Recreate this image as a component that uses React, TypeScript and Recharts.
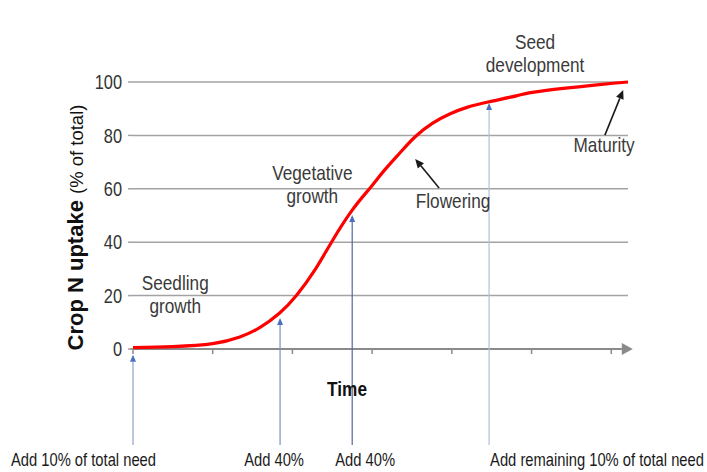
import React from 'react';
import { LineChart, Line, XAxis, YAxis, CartesianGrid, ReferenceLine, ReferenceDot } from 'recharts';

// ---- data ----
const times = [0, 0.5, 1.0, 1.34, 1.59, 1.84, 2.05, 2.28, 2.49, 2.75, 2.98, 3.15, 3.35, 3.54, 3.76, 3.98, 4.19, 4.47, 4.82, 5.1, 5.82, 6.21];
const uptake = [0.5, 0.9, 2.0, 4.5, 8.0, 13.5, 20, 29.5, 40, 52, 60.5, 66.8, 73.5, 79.5, 84.6, 88.1, 90.5, 92.6, 94.9, 96.5, 98.9, 100];
const yTicks = [0, 20, 40, 60, 80, 100];
const xTicks = [0, 1, 2, 3, 4, 5, 6];

const stageTexts = ['Seedling|growth', 'Vegetative|growth', 'Flowering', 'Maturity', 'Seed|development'];
const stageTimes = [0.53, 2.25, 4.015, 5.91, 5.044];
const stageValues = [22.1, 63.3, 52.8, 73.8, 112.4];

const arrowFromTimes = [3.84, 5.92];
const arrowFromValues = [60.3, 80.1];
const arrowToTimes = [3.54, 6.15];
const arrowToValues = [71.2, 97.0];

const applicationLabels = ['Add 10% of total need', 'Add 40%', 'Add 40%', 'Add remaining 10% of total need'];
const applicationTimes = [0, 1.845, 2.75, 4.467];
const applicationTops = [-2.2, 11.6, 50.2, 92.1];
const applicationBottom = -36;

const xAxisEnd = 6.27;
const yLabelTime = -0.63;
const yLabelValue = 45.5;
const timeLabelTime = 2.685;
const timeLabelValue = -17.6;

const data = times.map((t, i) => ({ t, v: uptake[i] }));

// ---- styles ----
const SANS = "'Liberation Sans', Arial, sans-serif";
const SQUEEZE = 0.82;
const GRID = '#a3a3a3';
const AXIS = '#8a8a8a';
const appColors = ['#8ea0cc', '#7b90c2', '#56689a', '#b3c0dc'];
const appAnchors: ('start' | 'middle' | 'end')[] = ['end', 'middle', 'middle', 'start'];
const appDx = [23, -6, 13, 1];

const NarrowText = ({ x, y, anchor = 'start', size, weight = 'normal', fill, lines, lineGap = 0, dy = 0 }: any) => (
  <text
    transform={`translate(${x},${y}) scale(${SQUEEZE},1)`}
    x={0}
    y={0}
    textAnchor={anchor}
    fontFamily={SANS}
    fontSize={size}
    fontWeight={weight}
    fill={fill}
  >
    {lines.map((l: string, k: number) => (
      <tspan key={k} x={0} dy={k === 0 ? dy : lineGap}>
        {l}
      </tspan>
    ))}
  </text>
);

function arrowHead(x1: number, y1: number, x2: number, y2: number, len: number, half: number) {
  const ang = Math.atan2(y2 - y1, x2 - x1);
  const bx = x2 - len * Math.cos(ang);
  const by = y2 - len * Math.sin(ang);
  const px = -Math.sin(ang) * half;
  const py = Math.cos(ang) * half;
  return { bx, by, points: `${x2},${y2} ${bx + px},${by + py} ${bx - px},${by - py}` };
}

const BlackArrow = (p: any) => {
  const { x1, y1, x2, y2 } = p;
  const h = arrowHead(x1, y1, x2, y2, 9, 4);
  return (
    <g>
      <line x1={x1} y1={y1} x2={h.bx} y2={h.by} stroke="#1a1a1a" strokeWidth={1.6} />
      <polygon points={h.points} fill="#1a1a1a" />
    </g>
  );
};

const AxisArrow = (p: any) => {
  const { x1, y1, x2, y2 } = p;
  const h = arrowHead(x1, y1, x2, y2, 11, 6);
  return (
    <g>
      <line x1={x1 - 3} y1={y1} x2={h.bx} y2={h.by} stroke={AXIS} strokeWidth={2.2} />
      <polygon points={h.points} fill={AXIS} />
    </g>
  );
};

const makeAppArrow = (i: number) => (p: any) => {
  const { x1, y1, x2, y2 } = p; // from bottom to top
  const h = arrowHead(x1, y1, x2, y2, 7, 3);
  return (
    <g>
      <line x1={x1} y1={y1} x2={h.bx} y2={h.by} stroke={appColors[i]} strokeWidth={1.2} />
      <polygon points={h.points} fill="#4a6fc0" />
      <NarrowText
        x={x1 + appDx[i]}
        y={y1 + 21}
        anchor={appAnchors[i]}
        size={18}
        fill="#1a1a1a"
        lines={[applicationLabels[i]]}
      />
    </g>
  );
};

const makeStageText = (i: number) => (p: any) => (
  <NarrowText
    x={p.cx}
    y={p.cy}
    anchor="middle"
    size={21}
    fill="#3a3a3a"
    lines={stageTexts[i].split('|')}
    lineGap={23}
  />
);

const YTick = (p: any) => (
  <NarrowText
    x={p.x}
    y={p.y}
    anchor="end"
    size={20}
    fill="#333"
    dy="0.36em"
    lines={[String(p.payload.value)]}
  />
);

const YLabel = (p: any) => {
  const { cx, cy } = p;
  return (
    <text
      x={cx}
      y={cy}
      textAnchor="middle"
      transform={`rotate(-90, ${cx}, ${cy})`}
      fontFamily={SANS}
      fill="#111"
    >
      <tspan fontWeight="bold" fontSize={22}>Crop N uptake </tspan>
      <tspan fontSize={18.5}>(% of total)</tspan>
    </text>
  );
};

const TimeLabel = (p: any) => (
  <NarrowText x={p.cx} y={p.cy} anchor="middle" size={21} weight="bold" fill="#111" lines={['Time']} />
);

export default function App() {
  return (
    <div style={{ position: 'absolute', left: 0, top: 0, width: 707, height: 472, background: '#fff' }}>
      <LineChart width={707} height={472} data={data} margin={{ top: 82, right: 79, left: 73, bottom: 93 }}>
        <CartesianGrid vertical={false} stroke={GRID} strokeWidth={1.5} />
        <XAxis
          dataKey="t"
          type="number"
          domain={[0, 6.21]}
          ticks={xTicks}
          height={30}
          axisLine={false}
          tickLine={{ stroke: AXIS, strokeWidth: 1.5 }}
          tickSize={5}
          tickFormatter={() => ''}
        />
        <YAxis
          type="number"
          domain={[0, 100]}
          ticks={yTicks}
          width={60}
          axisLine={false}
          tickLine={{ stroke: GRID, strokeWidth: 1.5 }}
          tickSize={5}
          tickMargin={6}
          tick={YTick}
        />
        <ReferenceLine
          segment={[{ x: 0, y: 0 }, { x: xAxisEnd, y: 0 }]}
          ifOverflow="visible"
          shape={AxisArrow}
        />
        {applicationTimes.map((t, i) => (
          <ReferenceLine
            key={`app${i}`}
            segment={[{ x: t, y: applicationBottom }, { x: t, y: applicationTops[i] }]}
            ifOverflow="visible"
            shape={makeAppArrow(i)}
          />
        ))}
        <Line
          type="natural"
          dataKey="v"
          stroke="#ff0000"
          strokeWidth={3.2}
          dot={false}
          activeDot={false}
          isAnimationActive={false}
        />
        {arrowFromTimes.map((t, i) => (
          <ReferenceLine
            key={`arr${i}`}
            segment={[{ x: t, y: arrowFromValues[i] }, { x: arrowToTimes[i], y: arrowToValues[i] }]}
            ifOverflow="visible"
            shape={BlackArrow}
          />
        ))}
        {stageTimes.map((t, i) => (
          <ReferenceDot key={`st${i}`} x={t} y={stageValues[i]} r={0} ifOverflow="visible" shape={makeStageText(i)} />
        ))}
        <ReferenceDot x={yLabelTime} y={yLabelValue} r={0} ifOverflow="visible" shape={YLabel} />
        <ReferenceDot x={timeLabelTime} y={timeLabelValue} r={0} ifOverflow="visible" shape={TimeLabel} />
      </LineChart>
    </div>
  );
}
